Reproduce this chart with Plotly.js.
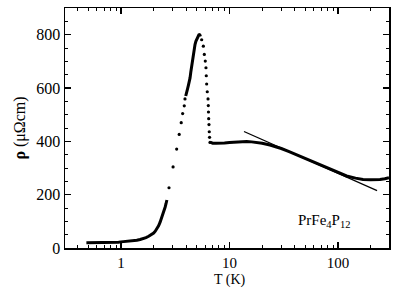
<!DOCTYPE html>
<html><head><meta charset="utf-8">
<script src="https://cdn.plot.ly/plotly-3.0.1.min.js"></script>
<style>html,body{margin:0;padding:0;background:#fff}#chart{width:393px;height:289px}</style>
</head><body><div id="chart"></div>
<script>
// Continuous low-T part
const T_low = [0.48,0.52,0.56,0.6,0.65,0.7,0.75,0.8,0.85,0.9,0.95,1.0,1.1,1.2,1.3,1.4,1.5,1.6,1.7,1.8,1.9,2.0,2.07,2.15,2.22,2.29,2.36,2.43,2.5,2.55,2.6,2.65];
const R_low = [20,20,20,20,21,21,21,21,22,22,22,23,24,25,27,29,32,35,39,44,50,56,63,72,83,96,110,124,140,153,166,180];
// Sparse dots on the steep rise
const T_rise = [2.77,3.02,3.26,3.44,3.59,3.70,3.83,3.89];
const R_rise = [226,304,371,426,470,504,533,559];
// Continuous part up to the peak
const T_peak = [3.95,4.03,4.1,4.18,4.26,4.33,4.4,4.48,4.56,4.64,4.72,4.81,4.9,5.0,5.08,5.15,5.22,5.27,5.33,5.4];
const R_peak = [570,580,596,610,622,638,660,683,703,722,742,763,775,785,792,797,799,800,799,793];
// Sparse dots on the drop
const T_drop = [5.54,5.74,5.86,5.98,6.07,6.11,6.16,6.24,6.34,6.38,6.40,6.43,6.47,6.51,6.55,6.61];
const R_drop = [781,757,726,701,676,646,615,586,559,534,510,485,463,436,415,396];
// Continuous high-T part
const T_high = [6.7,7.0,7.5,8,9,10,11,12,13,14.4,16,18,20,23.6,27,30,35,41.6,50,60,70,84,100,120,145,170,200,225,244,270,295];
const R_high = [396,393,393,393,394,396,397,398,398,399,398,396,393,386,379,373,362,349,336,322,310,294,283,270,262,257,256,256,257,260,264];
// Logarithmic fit line
const T_fit = [13.6,229];
const R_fit = [437,215];

const mk = {color:'#000', size:3.2};
const traces = [
  {x:T_low, y:R_low, mode:'lines', line:{color:'#000', width:3}, hoverinfo:'skip'},
  {x:T_rise, y:R_rise, mode:'markers', marker:mk, hoverinfo:'skip'},
  {x:T_peak, y:R_peak, mode:'lines', line:{color:'#000', width:3}, hoverinfo:'skip'},
  {x:T_drop, y:R_drop, mode:'markers', marker:mk, hoverinfo:'skip'},
  {x:T_high, y:R_high, mode:'lines', line:{color:'#000', width:3}, hoverinfo:'skip'},
  {x:T_fit, y:R_fit, mode:'lines', line:{color:'#000', width:1.3}, hoverinfo:'skip'}
];
const FAM = 'Liberation Serif, Times New Roman, serif';
const f = (s) => ({family:FAM, size:s, color:'#000'});
const layout = {
  width:393, height:289, showlegend:false,
  margin:{l:65, r:4, t:8, b:41},
  paper_bgcolor:'#fff', plot_bgcolor:'#fff',
  font: f(16),
  xaxis:{type:'log', range:[-0.516, 2.47], showgrid:false, zeroline:false,
    showline:true, linecolor:'#000', linewidth:1.5, mirror:'allticks',
    ticks:'inside', ticklen:6, tickwidth:1.2, tickcolor:'#000',
    tickvals:[1,10,100], ticktext:['1','10','100'],
    minor:{ticks:'inside', ticklen:3, tickwidth:1, tickcolor:'#000',
      tickvals:[0.4,0.5,0.6,0.7,0.8,0.9,2,3,4,5,6,7,8,9,20,30,40,50,60,70,80,90,200]},
    tickfont:f(15)},
  yaxis:{range:[0,900], showgrid:false, zeroline:false,
    showline:true, linecolor:'#000', linewidth:1.5, mirror:'allticks',
    ticks:'inside', ticklen:6, tickwidth:1.2, tickcolor:'#000',
    dtick:200, tick0:0,
    minor:{ticks:'inside', ticklen:3, tickwidth:1, tickcolor:'#000', dtick:50},
    tickfont:f(16),
    title:{text:'<b>ρ</b> (μΩcm)', font:f(16), standoff:6}},
  annotations:[
    {x:Math.log10(75), y:102, xref:'x', yref:'y', showarrow:false,
     text:'PrFe<sub>4</sub>P<sub>12</sub>', font:f(15)},
    {x:0.51, y:-0.171, xref:'paper', yref:'paper', yanchor:'bottom', showarrow:false,
     borderpad:0, text:'T (K)', font:f(14)}
  ]
};
Plotly.newPlot('chart', traces, layout, {staticPlot:true, displayModeBar:false});
</script></body></html>
